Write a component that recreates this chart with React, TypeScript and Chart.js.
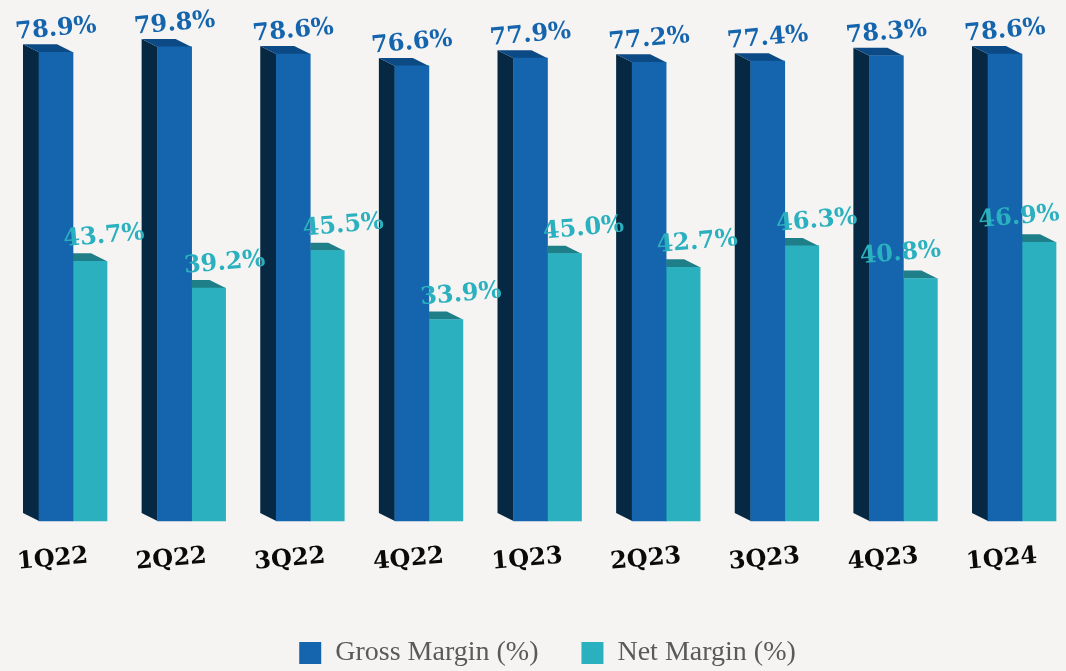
import React, { useEffect, useRef } from "react";
import { Chart, registerables } from "chart.js";

Chart.register(...registerables);

const quarters = ["1Q22", "2Q22", "3Q22", "4Q22", "1Q23", "2Q23", "3Q23", "4Q23", "1Q24"];
const grossMargin = [78.9, 79.8, 78.6, 76.6, 77.9, 77.2, 77.4, 78.3, 78.6];
const netMargin = [43.7, 39.2, 45.5, 33.9, 45.0, 42.7, 46.3, 40.8, 46.9];

const BG = "#f5f4f2";
const GROSS = "#1464ae";
const GROSS_SIDE = "#062842";
const GROSS_TOP = "#0c4a85";
const NET = "#2ab0be";
const NET_TOP = "#1f7f89";
const SERIF = "'Liberation Serif', serif";
const BOLD_SERIF = "'DejaVu Serif', serif";
const DEPTH_X = 16;
const DEPTH_Y = 8;
const netLabelShift = [14, 16, 16, 15, 19, 14, 15, -20, -20];

function poly(ctx: CanvasRenderingContext2D, pts: number[][], color: string) {
  ctx.fillStyle = color;
  ctx.beginPath();
  pts.forEach((p, i) => (i ? ctx.lineTo(p[0], p[1]) : ctx.moveTo(p[0], p[1])));
  ctx.closePath();
  ctx.fill();
}

const bars3d = {
  id: "bars3d",
  beforeDatasetsDraw(chart: any) {
    const { ctx } = chart;
    ctx.save();
    chart.getDatasetMeta(0).data.forEach((b: any) => {
      const l = b.x - b.width / 2;
      const r = b.x + b.width / 2;
      poly(ctx, [[l, b.y], [l - DEPTH_X, b.y - DEPTH_Y], [l - DEPTH_X, b.base - DEPTH_Y], [l, b.base]], GROSS_SIDE);
      poly(ctx, [[l, b.y], [l - DEPTH_X, b.y - DEPTH_Y], [r - DEPTH_X, b.y - DEPTH_Y], [r, b.y]], GROSS_TOP);
    });
    chart.getDatasetMeta(1).data.forEach((b: any) => {
      const l = b.x - b.width / 2;
      const r = b.x + b.width / 2;
      poly(ctx, [[l, b.y], [l, b.y - DEPTH_Y], [r - DEPTH_X, b.y - DEPTH_Y], [r, b.y]], NET_TOP);
    });
    ctx.restore();
  },
  afterDatasetsDraw(chart: any) {
    const { ctx } = chart;
    ctx.save();
    ctx.font = `bold 24px ${BOLD_SERIF}`;
    ctx.textAlign = "center";
    ctx.textBaseline = "middle";
    const put = (text: string, x: number, y: number, color: string) => {
      ctx.save();
      ctx.translate(x, y);
      ctx.rotate((-5 * Math.PI) / 180);
      ctx.fillStyle = color;
      ctx.fillText(text, 0, 0);
      ctx.restore();
    };
    chart.getDatasetMeta(0).data.forEach((b: any, i: number) => {
      put(grossMargin[i].toFixed(1) + "%", b.x, b.y - 23, GROSS);
    });
    chart.getDatasetMeta(1).data.forEach((b: any, i: number) => {
      put(netMargin[i].toFixed(1) + "%", b.x + netLabelShift[i], b.y - 25, NET);
    });
    ctx.restore();
  },
};

export default function App() {
  const ref = useRef<HTMLCanvasElement>(null);
  useEffect(() => {
    const chart = new Chart(ref.current as HTMLCanvasElement, {
      type: "bar",
      data: {
        labels: quarters,
        datasets: [
          { label: "Gross Margin (%)", data: grossMargin, backgroundColor: GROSS, barThickness: 34, clip: false as any },
          { label: "Net Margin (%)", data: netMargin, backgroundColor: NET, barThickness: 34, clip: false as any },
        ],
      },
      options: {
        responsive: false,
        animation: false,
        layout: { padding: { left: 73, right: 44, top: 16, bottom: -6 } },
        plugins: {
          title: { display: false },
          tooltip: { enabled: false },
          legend: {
            position: "bottom",
            fullSize: false,
            labels: {
              boxWidth: 22,
              boxHeight: 22,
              padding: 43,
              color: "#5a5a5a",
              font: { family: SERIF, size: 28 },
            },
          },
        },
        scales: {
          x: {
            offset: false,
            grid: { display: false },
            border: { display: false },
            afterFit: (scale: any) => {
              scale.height = 75;
              scale.paddingLeft = 0;
              scale.paddingRight = 0;
            },
            ticks: {
              color: "#0a0a0a",
              font: { family: BOLD_SERIF, size: 24, weight: "bold" },
              minRotation: 5,
              maxRotation: 5,
              autoSkip: false,
              labelOffset: 15,
              padding: 13,
            },
          },
          y: { display: false, min: 0, max: 85 },
        },
      },
      plugins: [bars3d],
    });
    return () => chart.destroy();
  }, []);
  return (
    <div style={{ position: "fixed", left: 0, top: 0, width: 1066, height: 671, background: BG }}>
      <canvas ref={ref} width={1066} height={671} style={{ display: "block", filter: "blur(0.5px)" }} />
    </div>
  );
}
